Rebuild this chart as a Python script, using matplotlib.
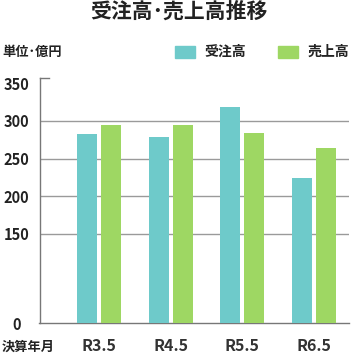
import numpy as np
import matplotlib
matplotlib.use("Agg")
import matplotlib.pyplot as plt
from matplotlib.patches import Rectangle

plt.rcParams['font.family'] = ['Noto Sans CJK JP', 'DejaVu Sans']

categories = ["R3.5", "R4.5", "R5.5", "R6.5"]
orders = [283, 278, 318, 224]      # 受注高
sales = [295, 295, 284, 264]       # 売上高
series_names = ["受注高", "売上高"]
y_ticks = [0, 150, 200, 250, 300, 350]
grid_vals = [150, 200, 250, 300]

TEAL = "#6ECACA"
GREEN = "#9ED763"
TXT = "#222222"

# compressed segment below 150
K = 0.789
def fwd(v):
    v = np.asarray(v, dtype=float)
    return np.where(v >= 150, v, 150 - (150 - v) * K)
def inv(t):
    t = np.asarray(t, dtype=float)
    return np.where(t >= 150, t, 150 - (150 - t) / K)

fig = plt.figure(figsize=(3.56, 3.55), dpi=100)
ax = fig.add_axes([39.5/356, 1-323/355, (349-39.5)/356, (323-78)/355])
ax.set_yscale('function', functions=(fwd, inv))
ax.set_ylim(0, 357)
ax.set_xlim(-0.83, 3.49)

x = np.arange(len(categories))
w = 0.279
off = 0.167
ax.bar(x - off, orders, width=w, color=TEAL, zorder=3)
ax.bar(x + off, sales, width=w, color=GREEN, zorder=3)

for g in grid_vals:
    ax.axhline(g, color="#9a9a9a", lw=1.0, zorder=1)
# short stub at top of axis
ax.plot([0, 9/309.5], [1, 1], transform=ax.transAxes, color="#777777", lw=1.0, clip_on=False)

for s in ['top', 'right']:
    ax.spines[s].set_visible(False)
for s in ['left', 'bottom']:
    ax.spines[s].set_color("#777777")
    ax.spines[s].set_linewidth(1.0)

ax.set_yticks(y_ticks)
ax.set_yticklabels([str(v) for v in y_ticks], fontsize=10.5, fontweight='bold', color=TXT)
ax.minorticks_off()
ax.tick_params(axis='y', length=0, pad=16.6)
for lab in ax.get_yticklabels():
    lab.set_ha('center')

ax.set_xticks(x)
ax.set_xticklabels(categories, fontsize=11.5, fontweight='bold', color="#333333")
ax.tick_params(axis='x', length=0, pad=11)

fig.text(178.5/356, 1-11/355, "受注高･売上高推移", ha='center', va='center',
         fontsize=15, fontweight='bold', color=TXT)
fig.text(2/356, 1-52/355, "単位･億円", ha='left', va='center',
         fontsize=9.5, fontweight='bold', color=TXT)
fig.text(2/356, 1-347/355, "決算年月", ha='left', va='center',
         fontsize=9.5, fontweight='bold', color=TXT)

# legend
for (x0, tx, col, name) in [(175, 204, TEAL, series_names[0]), (278, 308, GREEN, series_names[1])]:
    fig.patches.append(Rectangle((x0/356, 1-58/355), 20/356, 12/355,
                                 transform=fig.transFigure, color=col))
    fig.text(tx/356, 1-52/355, name, ha='left', va='center',
             fontsize=10, fontweight='bold', color=TXT)

fig.savefig("out.png", dpi=100)
